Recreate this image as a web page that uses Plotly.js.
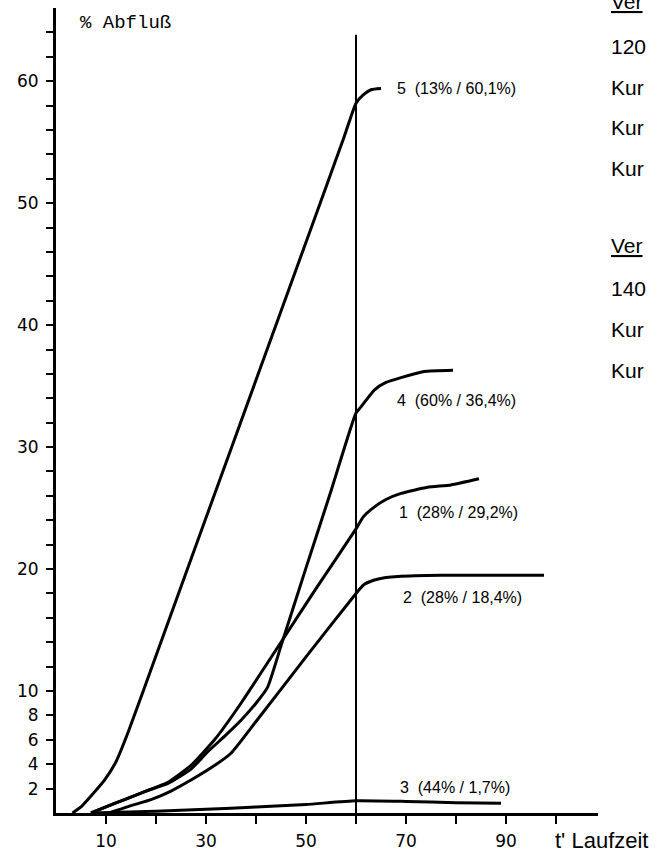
<!DOCTYPE html>
<html>
<head>
<meta charset="utf-8">
<script src="https://cdn.plot.ly/plotly-3.0.1.min.js"></script>
<style>
  html, body { margin: 0; padding: 0; background: #fff; }
  #chart { width: 657px; height: 856px; }
</style>
</head>
<body>
<div id="chart"></div>
<script>
// ---- data ----
const curveNames = ['1', '2', '3', '4', '5'];

const t1 = [7, 10, 13.7, 18, 22.3, 27, 31.7, 37, 45, 52, 60, 61.5, 63.7, 66, 69, 74.3, 79, 84.6];
const y1 = [0, 0.5, 1.1, 1.8, 2.5, 3.9, 6.0, 9.0, 14.0, 18.4, 23.3, 24.3, 25.1, 25.7, 26.2, 26.7, 26.9, 27.4];

const t2 = [10.6, 15, 19, 23, 27, 31, 35, 40, 50, 60, 61.5, 63.7, 66, 68.4, 77, 97.6];
const y2 = [0, 0.6, 1.1, 1.8, 2.7, 3.7, 4.9, 7.5, 12.8, 18.0, 18.7, 19.1, 19.3, 19.4, 19.5, 19.5];

const t3 = [7, 20, 30, 40, 50, 60, 70, 80, 89];
const y3 = [0, 0.15, 0.3, 0.5, 0.7, 1.0, 0.95, 0.85, 0.8];

const t4 = [7, 10, 13.7, 18, 22.3, 27, 30.3, 34, 37, 40, 42.3, 45, 50, 55, 60, 61, 63.7, 66, 69, 73.6, 79.4];
const y4 = [0, 0.5, 1.1, 1.8, 2.4, 3.6, 5.0, 6.4, 7.6, 9.0, 10.3, 13.7, 20.1, 26.4, 32.8, 33.3, 34.7, 35.3, 35.7, 36.2, 36.3];

const t5 = [3.3, 5, 7, 9.7, 12, 14.5, 20, 30, 40, 50, 57.6, 60, 61.5, 63, 65];
const y5 = [0, 0.5, 1.4, 2.7, 4.2, 6.7, 12.9, 24.2, 35.5, 46.8, 55.4, 58.2, 58.9, 59.3, 59.4];

const curveLabels = ['1  (28% / 29,2%)', '2  (28% / 18,4%)', '3  (44% / 1,7%)', '4  (60% / 36,4%)', '5  (13% / 60,1%)'];
const labelT = [68.2, 69, 68.4, 67.8, 67.8];
const labelY = [24.6, 17.7, 2.1, 33.85, 59.4];

const markerT = 60;          // vertical reference line at t' = 60
const markerTop = 63.8;

const yTickVals = [2, 4, 6, 8, 10, 12, 14, 16, 18, 20, 22, 24, 26, 28, 30, 32, 34, 36, 38, 40, 42, 44, 46, 48, 50, 52, 54, 56, 58, 60, 62, 64];
const yTickText = ['2', '4', '6', '8', '10', '', '', '', '', '20', '', '', '', '', '30', '', '', '', '', '40', '', '', '', '', '50', '', '', '', '', '60', '', ''];
const xTickVals = [10, 20, 30, 40, 50, 60, 70, 80, 90, 100];
const xTickText = ['10', '', '30', '', '50', '', '70', '', '90', ''];

const yTitle = '% Abfluß';
const xTitle = "t' Laufzeit";
const sideTexts = ['Ver', '120', 'Kur', 'Kur', 'Kur', 'Ver', '140', 'Kur', 'Kur'];
const sideUnderline = [true, false, false, false, false, true, false, false, false];

// ---- layout helpers (pixel positions -> paper) ----
const W = 657, H = 856;
const M = { l: 56, r: 59, t: 8, b: 43 };
const PW = W - M.l - M.r, PH = H - M.t - M.b;
const px = x => (x - M.l) / PW;
const py = y => (H - M.b - y) / PH;
const YMAX = 66;

const allT = [t1, t2, t3, t4, t5];
const allY = [y1, y2, y3, y4, y5];
const traces = allT.map((t, i) => ({
  x: t, y: allY[i], type: 'scatter', mode: 'lines', name: curveNames[i],
  line: { color: '#000', width: 3, shape: 'spline', smoothing: 0.5 },
  hoverinfo: 'skip', showlegend: false
}));

const annotations = [];
curveLabels.forEach((txt, i) => {
  annotations.push({
    x: labelT[i], y: labelY[i], xref: 'x', yref: 'y', text: txt.replace(/  /g, '\u00a0\u00a0'),
    showarrow: false, xanchor: 'left', yanchor: 'middle',
    font: { family: 'Liberation Sans, Arial, sans-serif', size: 16, color: '#000' }
  });
});
annotations.push({
  x: px(78), y: py(23), xref: 'paper', yref: 'paper', text: yTitle, showarrow: false,
  xanchor: 'left', yanchor: 'middle',
  font: { family: 'Liberation Mono, Courier New, monospace', size: 19, color: '#000' }
});
annotations.push({
  x: px(553), y: py(840), xref: 'paper', yref: 'paper', text: xTitle, showarrow: false,
  xanchor: 'left', yanchor: 'middle',
  font: { family: 'Liberation Sans, Arial, sans-serif', size: 22, color: '#000' }
});
const sideY = [1, 46, 87, 128, 169, 246, 288, 329, 370];
sideTexts.forEach((txt, i) => {
  annotations.push({
    x: px(609), y: py(sideY[i]), xref: 'paper', yref: 'paper',
    text: sideUnderline[i] ? '<u>' + txt + '</u>' : txt, showarrow: false,
    xanchor: 'left', yanchor: 'middle',
    font: { family: 'Liberation Sans, Arial, sans-serif', size: 21, color: '#000' }
  });
});

const layout = {
  width: W, height: H, margin: M,
  paper_bgcolor: '#fff', plot_bgcolor: '#fff',
  showlegend: false,
  xaxis: {
    range: [0, 108.4], showgrid: false, zeroline: false,
    showline: true, linecolor: '#000', linewidth: 2.5,
    ticks: 'outside', ticklen: 8, tickwidth: 2, tickcolor: '#000',
    tickvals: xTickVals, ticktext: xTickText, ticklabelstandoff: 3,
    tickfont: { family: 'DejaVu Sans, sans-serif', size: 17, color: '#000' }
  },
  yaxis: {
    range: [0, YMAX], showgrid: false, zeroline: false,
    showline: true, linecolor: '#000', linewidth: 3,
    ticks: 'outside', ticklen: 7, tickwidth: 2, tickcolor: '#000',
    tickvals: yTickVals, ticktext: yTickText, ticklabelstandoff: 4,
    tickfont: { family: 'DejaVu Sans, sans-serif', size: 17, color: '#000' }
  },
  shapes: [{
    type: 'line', xref: 'x', yref: 'paper', x0: markerT, x1: markerT,
    y0: -0.011, y1: markerTop / YMAX, line: { color: '#000', width: 2 }
  }],
  annotations: annotations
};

Plotly.newPlot('chart', traces, layout, { staticPlot: true, displayModeBar: false });
</script>
</body>
</html>
